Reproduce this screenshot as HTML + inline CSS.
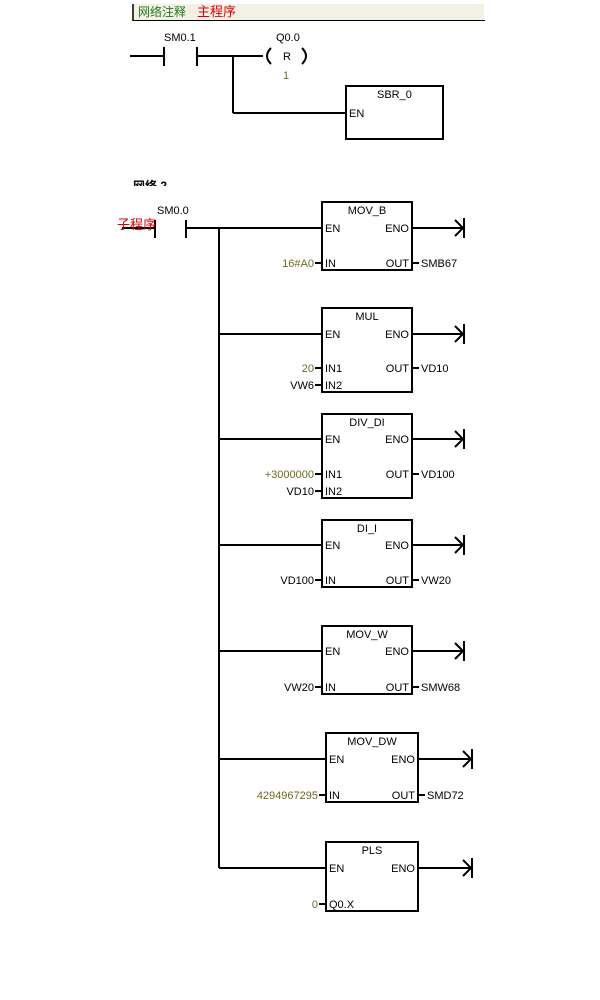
<!DOCTYPE html>
<html><head><meta charset="utf-8"><style>
html,body{margin:0;padding:0;background:#fff;width:600px;height:1000px;overflow:hidden}
svg{display:block}
text{font-family:"Liberation Sans","Noto Sans CJK SC",sans-serif;font-size:11px;fill:#000}
.g{fill:#6b6b1e}
</style></head><body>
<svg width="600" height="1000" viewBox="0 0 600 1000" xmlns="http://www.w3.org/2000/svg">
<rect x="132" y="4" width="352" height="16" fill="#f3f1e4"/>
<line x1="133" y1="4" x2="133" y2="21" stroke="#000" stroke-width="1.5"/>
<line x1="133" y1="20.5" x2="485" y2="20.5" stroke="#000" stroke-width="1"/>
<text x="138" y="16" style="font-size:12px;fill:#1e7a1e">网络注释</text>
<text x="197" y="16" style="font-size:13px;fill:#e00000">主程序</text>

<g stroke="#000" stroke-width="2" fill="none">
<line x1="130" y1="56" x2="164" y2="56"/>
<line x1="164" y1="47" x2="164" y2="66"/>
<line x1="197" y1="47" x2="197" y2="66"/>
<line x1="197" y1="56" x2="263" y2="56"/>
<line x1="233" y1="56" x2="233" y2="113"/>
<line x1="233" y1="113" x2="346" y2="113"/>
<path d="M271 48 Q263 56 271 64"/>
<path d="M302 48 Q310 56 302 64"/>
<rect x="346" y="86" width="97" height="53"/>
</g>
<text x="164" y="41">SM0.1</text>
<text x="276" y="41">Q0.0</text>
<text x="283" y="60">R</text>
<text x="283" y="79" class="g">1</text>
<text x="377" y="98">SBR_0</text>
<text x="349" y="117">EN</text>

<text x="133" y="190" style="font-size:12px;font-weight:bold">网络 2</text>
<rect x="120" y="186" width="120" height="10" fill="#fff"/>

<g stroke="#000" stroke-width="2" fill="none">
<line x1="122" y1="228" x2="155" y2="228"/>
<line x1="155" y1="220" x2="155" y2="238"/>
<line x1="186" y1="220" x2="186" y2="238"/>
<line x1="186" y1="228" x2="322" y2="228"/>
<line x1="219" y1="228" x2="219" y2="868"/>
</g>
<text x="157" y="214">SM0.0</text>
<text x="117" y="229" style="font-size:13px;fill:#e00000">子程序</text>

<g stroke="#000" stroke-width="2" fill="none">
<!-- MOV_B -->
<rect x="322" y="202" width="90" height="68"/>
<line x1="412" y1="228" x2="464" y2="228"/><path d="M455 220 L463 228 L455 236 M464 218 V238"/>
<line x1="315" y1="263" x2="322" y2="263"/><line x1="412" y1="263" x2="419" y2="263"/>
<!-- MUL -->
<line x1="219" y1="334" x2="322" y2="334"/>
<rect x="322" y="308" width="90" height="84"/>
<line x1="412" y1="334" x2="464" y2="334"/><path d="M455 326 L463 334 L455 342 M464 324 V344"/>
<line x1="315" y1="368" x2="322" y2="368"/><line x1="315" y1="385" x2="322" y2="385"/><line x1="412" y1="368" x2="419" y2="368"/>
<!-- DIV_DI -->
<line x1="219" y1="439" x2="322" y2="439"/>
<rect x="322" y="414" width="90" height="84"/>
<line x1="412" y1="439" x2="464" y2="439"/><path d="M455 431 L463 439 L455 447 M464 429 V449"/>
<line x1="315" y1="474" x2="322" y2="474"/><line x1="315" y1="491" x2="322" y2="491"/><line x1="412" y1="474" x2="419" y2="474"/>
<!-- DI_I -->
<line x1="219" y1="545" x2="322" y2="545"/>
<rect x="322" y="520" width="90" height="67"/>
<line x1="412" y1="545" x2="464" y2="545"/><path d="M455 537 L463 545 L455 553 M464 535 V555"/>
<line x1="315" y1="580" x2="322" y2="580"/><line x1="412" y1="580" x2="419" y2="580"/>
<!-- MOV_W -->
<line x1="219" y1="651" x2="322" y2="651"/>
<rect x="322" y="626" width="90" height="68"/>
<line x1="412" y1="651" x2="464" y2="651"/><path d="M455 643 L463 651 L455 659 M464 641 V661"/>
<line x1="315" y1="687" x2="322" y2="687"/><line x1="412" y1="687" x2="419" y2="687"/>
<!-- MOV_DW -->
<line x1="219" y1="759" x2="326" y2="759"/>
<rect x="326" y="733" width="92" height="69"/>
<line x1="418" y1="759" x2="472" y2="759"/><path d="M463 751 L471 759 L463 767 M472 749 V769"/>
<line x1="319" y1="795" x2="326" y2="795"/><line x1="418" y1="795" x2="425" y2="795"/>
<!-- PLS -->
<line x1="219" y1="868" x2="326" y2="868"/>
<rect x="326" y="842" width="92" height="69"/>
<line x1="418" y1="868" x2="472" y2="868"/><path d="M463 860 L471 868 L463 876 M472 858 V878"/>
<line x1="319" y1="904" x2="326" y2="904"/>
</g>

<text x="367" y="214" text-anchor="middle">MOV_B</text>
<text x="325" y="232">EN</text><text x="409" y="232" text-anchor="end">ENO</text>
<text x="325" y="267">IN</text><text x="409" y="267" text-anchor="end">OUT</text>
<text x="314" y="267" text-anchor="end" class="g">16#A0</text><text x="421" y="267">SMB67</text>

<text x="367" y="320" text-anchor="middle">MUL</text>
<text x="325" y="338">EN</text><text x="409" y="338" text-anchor="end">ENO</text>
<text x="325" y="372">IN1</text><text x="325" y="389">IN2</text><text x="409" y="372" text-anchor="end">OUT</text>
<text x="314" y="372" text-anchor="end" class="g">20</text><text x="314" y="389" text-anchor="end">VW6</text><text x="421" y="372">VD10</text>

<text x="367" y="426" text-anchor="middle">DIV_DI</text>
<text x="325" y="443">EN</text><text x="409" y="443" text-anchor="end">ENO</text>
<text x="325" y="478">IN1</text><text x="325" y="495">IN2</text><text x="409" y="478" text-anchor="end">OUT</text>
<text x="314" y="478" text-anchor="end" class="g">+3000000</text><text x="314" y="495" text-anchor="end">VD10</text><text x="421" y="478">VD100</text>

<text x="367" y="532" text-anchor="middle">DI_I</text>
<text x="325" y="549">EN</text><text x="409" y="549" text-anchor="end">ENO</text>
<text x="325" y="584">IN</text><text x="409" y="584" text-anchor="end">OUT</text>
<text x="314" y="584" text-anchor="end">VD100</text><text x="421" y="584">VW20</text>

<text x="367" y="638" text-anchor="middle">MOV_W</text>
<text x="325" y="655">EN</text><text x="409" y="655" text-anchor="end">ENO</text>
<text x="325" y="691">IN</text><text x="409" y="691" text-anchor="end">OUT</text>
<text x="314" y="691" text-anchor="end">VW20</text><text x="421" y="691">SMW68</text>

<text x="372" y="745" text-anchor="middle">MOV_DW</text>
<text x="329" y="763">EN</text><text x="415" y="763" text-anchor="end">ENO</text>
<text x="329" y="799">IN</text><text x="415" y="799" text-anchor="end">OUT</text>
<text x="318" y="799" text-anchor="end" class="g">4294967295</text><text x="427" y="799">SMD72</text>

<text x="372" y="854" text-anchor="middle">PLS</text>
<text x="329" y="872">EN</text><text x="415" y="872" text-anchor="end">ENO</text>
<text x="329" y="908">Q0.X</text>
<text x="318" y="908" text-anchor="end" class="g">0</text>
</svg>
</body></html>
